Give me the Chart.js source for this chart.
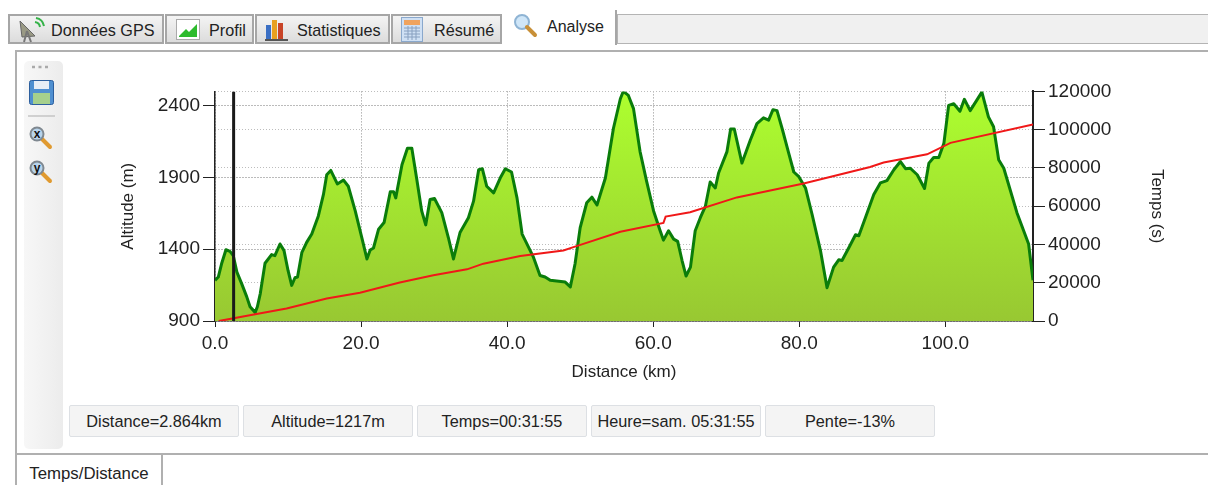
<!DOCTYPE html>
<html>
<head>
<meta charset="utf-8">
<script src="https://cdn.jsdelivr.net/npm/chart.js@4"></script>
<style>
  html, body { margin: 0; padding: 0; background: #fff; }
  body { width: 1208px; height: 485px; position: relative; overflow: hidden; font-family: "Liberation Sans", sans-serif; color: #222; }
  .abs { position: absolute; box-sizing: border-box; }
  .tab { top: 14px; height: 30px; background: linear-gradient(#f4f4f4, #dcdcdc); border: 2px solid #a6a6a6; font-size: 16.2px; line-height: 28px; }
  .tab span { position: absolute; top: 0; white-space: nowrap; }
  .tab svg { position: absolute; }
  .status { top: 405px; height: 32px; width: 170px; background: #f4f4f4; border: 1px solid #dde0e4; border-radius: 2px; font-size: 16.3px; line-height: 31px; text-align: center; }
  #wrap { left: 118px; top: 77px; width: 1049px; height: 306px; }
</style>
</head>
<body>
  <div class="abs" style="left:617px;top:14px;width:591px;height:30px;background:#f0f0f0;border:1px solid #b4b4b4;border-right:0"></div>
  <div class="abs tab" style="left:8px;width:156px"><svg style="left:7px;top:1px" width="28" height="26" viewBox="0 0 28 26"><path d="M3 4 L18 19 L5 20Z" fill="#9a9a85" stroke="#666"/><path d="M10 14 L7 25 M10 14 L14 25" stroke="#777" stroke-width="2"/><path d="M18 5 a6 6 0 0 1 5 5 M19 1 a10 10 0 0 1 8 8" stroke="#37b34a" stroke-width="2" fill="none"/></svg><span style="left:41px">Données GPS</span></div>
  <div class="abs tab" style="left:165px;width:89px"><svg style="left:9px;top:3px" width="24" height="21" viewBox="0 0 24 21"><rect x=".5" y=".5" width="23" height="20" fill="#fff" stroke="#aaa"/><path d="M3 17 L10 10 L13 13 L21 5 V18 H3Z" fill="#2dbb2d"/></svg><span style="left:42px">Profil</span></div>
  <div class="abs tab" style="left:255px;width:135px"><svg style="left:6px;top:1px" width="26" height="26" viewBox="0 0 26 26"><rect x="3" y="8" width="5" height="14" fill="#3a6fc4"/><rect x="9" y="3" width="5" height="19" fill="#e8a020"/><rect x="15" y="6" width="5" height="16" fill="#c84428"/><path d="M2 23 H25" stroke="#555" stroke-width="2"/></svg><span style="left:40px">Statistiques</span></div>
  <div class="abs tab" style="left:391px;width:111px"><svg style="left:8px;top:1px" width="22" height="25" viewBox="0 0 22 25"><rect x=".5" y=".5" width="21" height="24" fill="#cfe0f4" stroke="#8aa8cc"/><rect x="3" y="3" width="16" height="5" fill="#f0a35e"/><path d="M3 11 H19 M3 14 H19 M3 17 H19 M3 20 H19 M7 9 V23 M11 9 V23 M15 9 V23" stroke="#88a0c0"/></svg><span style="left:41px">Résumé</span></div>
  <div class="abs" style="left:503px;top:10px;width:114px;height:35px;background:#fff;border-right:2px solid #a6a6a6;font-size:16px"><svg style="position:absolute;left:10px;top:3px" width="25" height="25" viewBox="0 0 25 25"><circle cx="9" cy="9" r="7" fill="#cfe6f8" stroke="#8fb4d4" stroke-width="2"/><path d="M14 14 L22 22" stroke="#c89038" stroke-width="4" stroke-linecap="round"/></svg><span style="position:absolute;left:44px;top:8px">Analyse</span></div>

  <div class="abs" style="left:15px;top:50px;width:1193px;height:405px;border:2px solid #b0b0b0;border-right:0;background:#fff"></div>
  <div class="abs" style="left:24px;top:61px;width:39px;height:388px;background:linear-gradient(90deg,#f7f7f7,#ececec);border-radius:5px"></div>
  <svg class="abs" style="left:24px;top:60px" width="39" height="130" viewBox="0 0 39 130">
    <path d="M8 7 h3 M14.5 7 h3 M21 7 h3" stroke="#aaa" stroke-width="2.5"/>
    <rect x="5.5" y="20.5" width="24" height="24" rx="2" fill="#4f8fd0" stroke="#2d5f9e"/><rect x="10" y="21" width="15" height="8" fill="#e8eef6"/><rect x="9" y="33" width="17" height="11" fill="#a6d08c"/>
    <path d="M4 56 H31" stroke="#c4c4c4" stroke-width="1.5"/>
    <path d="M18 79 L26 87" stroke="#e09a30" stroke-width="4" stroke-linecap="round"/><circle cx="13" cy="74" r="6.5" fill="#b8d4ec" stroke="#7f8890" stroke-width="2"/><text x="13" y="78" font-size="12" font-weight="bold" text-anchor="middle" font-family="Liberation Sans" fill="#111">x</text>
    <path d="M18 113 L26 121" stroke="#e09a30" stroke-width="4" stroke-linecap="round"/><circle cx="13" cy="108" r="6.5" fill="#b8d4ec" stroke="#7f8890" stroke-width="2"/><text x="13" y="112" font-size="12" font-weight="bold" text-anchor="middle" font-family="Liberation Sans" fill="#111">y</text>
  </svg>

  <div class="abs" id="wrap"><canvas id="profil"></canvas></div>

  <div class="abs status" style="left:69px">Distance=2.864km</div>
  <div class="abs status" style="left:243px">Altitude=1217m</div>
  <div class="abs status" style="left:417px">Temps=00:31:55</div>
  <div class="abs status" style="left:591px">Heure=sam. 05:31:55</div>
  <div class="abs status" style="left:765px">Pente=-13%</div>

  <div class="abs" style="left:15px;top:455px;width:148px;height:30px;border-left:2px solid #b0b0b0;border-right:2px solid #b0b0b0;background:#fff;font-size:16.8px;line-height:38px;text-align:center">Temps/Distance</div>

<script>
// altitude profile
const distanceKm = [0, 0.45, 0.9, 1.5, 2.05, 2.5, 3, 3.65, 4.35, 4.8, 5.5, 5.8, 6.2, 6.85, 7.75, 8.2, 8.9, 9.45, 10, 10.5, 10.95, 11.3, 11.9, 12.55, 13.25, 14.15, 14.85, 15.3, 15.85, 16.75, 17.6, 18.25, 19.2, 20.1, 20.8, 21.25, 21.7, 22.4, 23.15, 24, 24.45, 24.75, 25.6, 26.35, 26.95, 27.6, 28.3, 28.85, 29.45, 30.05, 31.05, 31.95, 32.65, 33.55, 34.7, 35.4, 36.1, 36.6, 37.2, 38.15, 39.05, 39.75, 40.6, 41.35, 42.05, 43.6, 44.5, 45.2, 45.9, 47.95, 48.65, 49.3, 50, 50.9, 51.6, 52.3, 53.45, 54.55, 55.5, 55.9, 56.6, 57.3, 58.2, 59.1, 60.05, 60.95, 61.4, 62.1, 62.8, 63.35, 63.95, 64.5, 65.1, 65.75, 66.45, 67.15, 67.8, 68.5, 68.95, 70.1, 70.6, 71.1, 72.15, 73.3, 74.2, 75.1, 75.8, 76.4, 76.95, 77.65, 78.55, 79.25, 79.9, 80.85, 81.75, 82.9, 83.8, 84.7, 85.4, 85.85, 86.8, 87.7, 88.15, 89.05, 90.2, 91.1, 92, 92.95, 93.85, 94.55, 95.2, 96.15, 97.15, 97.75, 98.4, 99.1, 99.8, 100.45, 101.15, 102, 102.6, 103.4, 105, 105.9, 106.6, 107.3, 108, 109.8, 111.4, 112];
const altitudeM = [1183, 1206, 1298, 1396, 1385, 1355, 1240, 1160, 1068, 999, 960, 999, 1091, 1302, 1362, 1355, 1436, 1390, 1252, 1148, 1201, 1206, 1378, 1447, 1505, 1631, 1781, 1918, 1948, 1854, 1881, 1838, 1666, 1481, 1332, 1394, 1408, 1539, 1585, 1799, 1799, 1757, 1987, 2102, 2102, 1895, 1666, 1569, 1746, 1753, 1654, 1481, 1332, 1516, 1619, 1734, 1953, 1960, 1838, 1792, 1895, 1960, 1937, 1757, 1505, 1344, 1217, 1206, 1183, 1171, 1137, 1298, 1550, 1723, 1762, 1707, 1895, 2240, 2447, 2498, 2470, 2378, 2079, 1872, 1666, 1528, 1463, 1528, 1470, 1454, 1321, 1213, 1275, 1528, 1619, 1700, 1868, 1826, 1930, 2079, 2236, 2236, 1999, 2160, 2274, 2314, 2298, 2371, 2364, 2240, 2068, 1937, 1907, 1826, 1643, 1390, 1132, 1275, 1326, 1321, 1412, 1500, 1493, 1619, 1781, 1861, 1877, 1953, 2010, 1960, 1963, 1918, 1822, 1999, 2038, 2038, 2137, 2401, 2412, 2360, 2443, 2364, 2493, 2321, 2252, 2022, 1963, 1654, 1436, 1183];

// temps / distance curve
const timeKm = [0.5, 2.55, 5.5, 9.8, 15.3, 19.85, 25.3, 29.9, 34.5, 36.75, 41.8, 47.7, 49.5, 55.5, 61.4, 61.7, 65.05, 71.45, 80.6, 89.7, 91.55, 97.5, 100.7, 112];
const timeSec = [0, 1400, 3480, 6580, 11780, 14720, 20090, 23900, 27000, 29960, 33940, 36880, 39140, 46600, 51260, 54550, 56800, 64600, 71860, 80500, 82800, 87100, 93100, 102700];

// cursor line
const cursorKm = [2.55, 2.55];
const cursorAlt = [900, 2498];

const distanceTicks = [0, 20, 40, 60, 80, 100];
const altitudeTicks = [900, 1400, 1900, 2400];
const tempsTicks = [0, 20000, 40000, 60000, 80000, 100000, 120000];

const tickFont = { family: 'Liberation Sans', size: 19 };
const titleFont = { family: 'Liberation Sans', size: 17 };

function setTicks(values) {
  return function (axis) {
    axis.ticks = values.map(v => ({ value: v }));
  };
}

function toPoints(xs, ys) {
  return xs.map((x, i) => ({ x: x, y: ys[i] }));
}

new Chart(document.getElementById('profil'), {
  type: 'line',
  data: {
    datasets: [
      {
        label: 'Curseur',
        data: toPoints(cursorKm, cursorAlt),
        yAxisID: 'y',
        borderColor: '#1a1a1a',
        borderWidth: 3,
        pointRadius: 0,
        order: 1
      },
      {
        label: 'Temps',
        data: toPoints(timeKm, timeSec),
        yAxisID: 'y1',
        borderColor: '#f01818',
        borderWidth: 2,
        pointRadius: 0,
        order: 2
      },
      {
        label: 'Altitude',
        data: toPoints(distanceKm, altitudeM),
        yAxisID: 'y',
        borderColor: '#0a7d0a',
        borderWidth: 3,
        borderJoinStyle: 'round',
        pointRadius: 0,
        fill: 'start',
        backgroundColor: function (context) {
          const area = context.chart.chartArea;
          if (!area) return '#9acd32';
          const g = context.chart.ctx.createLinearGradient(0, area.top, 0, area.bottom);
          g.addColorStop(0, '#adff2f');
          g.addColorStop(1, '#98c832');
          return g;
        },
        order: 3
      }
    ]
  },
  options: {
    responsive: true,
    maintainAspectRatio: false,
    animation: false,
    layout: { padding: { top: 7 } },
    plugins: { legend: { display: false }, tooltip: { enabled: false } },
    scales: {
      x: {
        type: 'linear',
        min: 0,
        max: 112,
        afterBuildTicks: setTicks(distanceTicks),
        afterFit: function (axis) { axis.height = 62; },
        title: { display: true, text: 'Distance (km)', color: '#222', font: titleFont, padding: 0 },
        ticks: { color: '#222', font: tickFont, maxRotation: 0, padding: 5, callback: v => v.toFixed(1) },
        border: { color: '#222', width: 1.5, dash: [1, 2] },
        grid: { color: '#8c8c8c', lineWidth: 1, tickLength: 6, tickColor: '#222', tickBorderDash: [] }
      },
      y: {
        position: 'left',
        min: 900,
        max: 2498,
        afterBuildTicks: setTicks(altitudeTicks),
        afterFit: function (axis) { axis.width = 97; },
        title: { display: true, text: 'Altitude (m)', color: '#222', font: titleFont, padding: 0 },
        ticks: { color: '#222', font: tickFont, padding: 3, callback: v => String(v) },
        border: { color: '#222', width: 1.5, dash: [1, 2] },
        grid: { color: '#777', lineWidth: 1, tickLength: 12, tickColor: '#222', tickBorderDash: [] }
      },
      y1: {
        position: 'right',
        min: 0,
        max: 120000,
        afterBuildTicks: setTicks(tempsTicks),
        afterFit: function (axis) { axis.width = 134; },
        title: { display: true, text: 'Temps (s)', color: '#222', font: titleFont, padding: 0 },
        ticks: { color: '#222', font: tickFont, padding: 3, callback: v => String(v) },
        border: { color: '#222', width: 2, dash: [1, 2] },
        grid: { color: '#bdbdbd', lineWidth: 1, tickLength: 12, tickColor: '#222', tickBorderDash: [] }
      }
    }
  }
});
</script>
</body>
</html>
